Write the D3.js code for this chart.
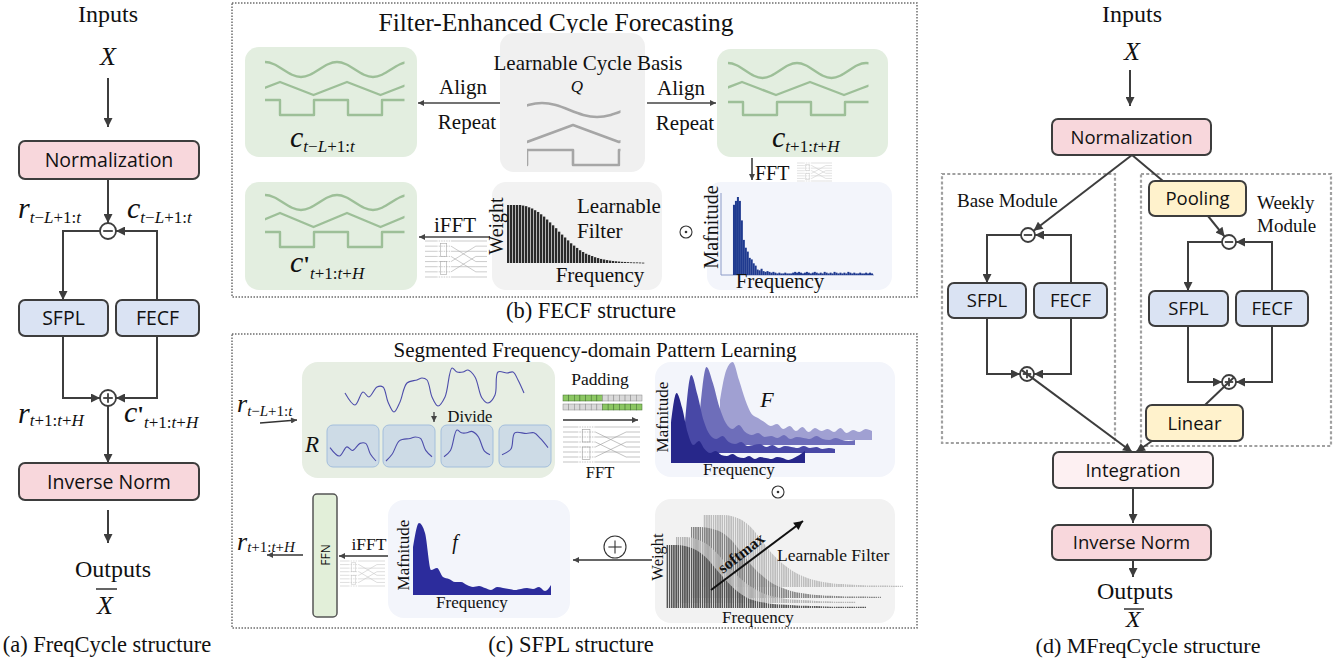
<!DOCTYPE html>
<html>
<head>
<meta charset="utf-8">
<script src="https://cdn.jsdelivr.net/npm/d3@7"></script>
<style>
  html, body { margin: 0; padding: 0; background: #fff; }
  svg { display: block; }
</style>
</head>
<body>
<script>
// ---------------- data ----------------
const panelCaptions = ["(a) FreqCycle structure", "(b) FECF structure", "(c) SFPL structure", "(d) MFreqCycle structure"];
const panelTitles = ["Filter-Enhanced Cycle Forecasting", "Segmented Frequency-domain Pattern Learning"];

// one period of each learnable cycle basis (1 = high, 0 = low)
const sineCycle = [1, 0.85, 0.5, 0.15, 0, 0.15, 0.5, 0.85];
const triangleCycle = [1, 0.5, 0, 0.5];
const squareCycle = [1, 0];

// FFT magnitude of the cycle (panel b)
const fftMagnitude = [0, 0.9, 0.95, 1.0, 0.95, 0.7, 0.45, 0.35, 0.3, 0.22, 0.2, 0.15, 0.12, 0.07, 0.06, 0.08,
  0.05, 0.04, 0.05, 0.04, 0.03, 0.04, 0.03, 0.02, 0.03, 0.02, 0.02, 0.03, 0.02, 0.02, 0.02, 0.03, 0.04, 0.03,
  0.04, 0.03, 0.02, 0.03, 0.04, 0.03, 0.02, 0.03, 0.04, 0.03, 0.02, 0.03, 0.02, 0.04, 0.03, 0.02, 0.03, 0.02,
  0.04, 0.03, 0.02, 0.03, 0.02, 0.03, 0.02, 0.04, 0.03, 0.02, 0.03, 0.02, 0.02, 0.03, 0.02, 0.02, 0.03, 0.02,
  0.03, 0.02];

// learnable filter weights (panel b)
const filterWeights = [1, 1, 1, 1, 1, 0.99, 0.98, 0.96, 0.94, 0.91, 0.88, 0.84, 0.8, 0.75, 0.7, 0.65, 0.6,
  0.54, 0.49, 0.44, 0.39, 0.34, 0.3, 0.26, 0.22, 0.19, 0.16, 0.14, 0.12, 0.1, 0.085, 0.07, 0.06, 0.05, 0.042,
  0.035, 0.03, 0.025, 0.02, 0.018, 0.015, 0.012, 0.01, 0.01, 0.008, 0.006];

// residual series r (panel c) and its segment boundaries (indices)
const residualTime = [0, 10, 18, 24, 32, 38, 43, 49, 55, 62, 72, 77, 82, 87, 93, 100, 107, 112, 118, 123, 130, 137, 143, 150, 153, 162, 168, 173, 179];
const residualValue = [19, 7, 20, 15, 25, 25, 10, 0, 10, 29, 32, 34, 32, 15, 6, 15, 44, 40, 40, 42, 35, 14, 9, 17, 40, 39, 40, 32, 19];
const segmentBreaks = [[0, 7], [7, 14], [14, 22], [22, 28]];
const paddingRows = [[1, 1, 1, 1, 1, 1, 1, 0, 0, 0, 0, 0, 0, 0], [0, 0, 0, 0, 0, 0, 0, 1, 1, 1, 1, 1, 1, 1]];

// per-segment spectra F (front to back)
const segmentSpectra = [
  [40, 70, 55, 30, 18, 22, 14, 10, 12, 8, 7, 9, 6, 5, 7, 4, 6, 5, 4, 6, 5, 3, 5, 8, 12],
  [30, 78, 58, 32, 18, 14, 17, 11, 9, 11, 7, 8, 9, 6, 8, 5, 7, 6, 5, 7, 5, 6, 4, 5, 4],
  [35, 78, 62, 38, 22, 16, 20, 13, 10, 12, 8, 9, 7, 10, 6, 8, 7, 6, 9, 6, 5, 7, 5, 4, 5],
  [40, 70, 78, 60, 40, 26, 22, 18, 14, 16, 11, 14, 9, 13, 8, 12, 9, 11, 8, 12, 7, 10, 8, 11, 9]
];
// merged spectrum f
const mergedSpectrum = [48, 72, 62, 25, 27, 18, 16, 13, 13, 10, 8, 9, 7, 5, 8, 7, 6, 5, 6, 7, 6, 8, 4, 10];

// learnable filter bank (front to back)
const filterBank = [
  [1, 1, 0.98, 0.92, 0.8, 0.62, 0.44, 0.28, 0.17, 0.11, 0.08, 0.06, 0.05, 0.04, 0.035, 0.03, 0.025, 0.02, 0.02, 0.015, 0.01],
  [1, 1, 0.97, 0.9, 0.77, 0.6, 0.43, 0.3, 0.2, 0.13, 0.09, 0.06, 0.05, 0.04, 0.03, 0.025, 0.02, 0.015, 0.01],
  [1, 1, 0.98, 0.93, 0.82, 0.65, 0.47, 0.33, 0.22, 0.15, 0.1, 0.07, 0.05, 0.04, 0.03, 0.025, 0.02, 0.02, 0.015, 0.01],
  [1, 1, 1, 0.98, 0.92, 0.8, 0.62, 0.45, 0.32, 0.22, 0.15, 0.1, 0.07, 0.05, 0.04, 0.03, 0.025, 0.02, 0.02, 0.015, 0.01]
];

// ---------------- setup ----------------
const serif = "'Liberation Serif','Times New Roman',serif";
const sans = "'Open Sans','Noto Sans',sans-serif";
const ink = "#3d3d3d";
const pink = "#f8d7dc", blue = "#dae3f3", yellow = "#fff2cc", softPink = "#fdf0f2";

const svg = d3.select("body").append("svg").attr("width", 1343).attr("height", 664);
const defs = svg.append("defs");

function marker(id, w, h, color) {
  defs.append("marker").attr("id", id).attr("viewBox", "0 0 10 10")
    .attr("refX", 10).attr("refY", 5).attr("markerWidth", w).attr("markerHeight", h)
    .attr("markerUnits", "userSpaceOnUse").attr("orient", "auto")
    .append("path").attr("d", "M0,0L10,5L0,10z").attr("fill", color);
}
marker("head", 10, 9, ink);
marker("headS", 8, 6, "#444");
marker("headK", 11, 9, "#111");

function stripes(id, color) {
  const p = defs.append("pattern").attr("id", id).attr("patternUnits", "userSpaceOnUse")
    .attr("width", 2.2).attr("height", 10);
  p.append("rect").attr("width", 1.5).attr("height", 10).attr("fill", color);
}

function label(x, y, str, o = {}) {
  return svg.append("text").attr("x", x).attr("y", y).text(str)
    .attr("font-family", o.font || serif).attr("font-size", o.size || 20)
    .attr("text-anchor", o.anchor || "middle").attr("fill", o.fill || "#111")
    .attr("font-style", o.italic ? "italic" : null)
    .attr("font-weight", o.weight || null)
    .attr("dominant-baseline", o.rotate != null ? "central" : null)
    .attr("transform", o.rotate != null ? `rotate(${o.rotate},${x},${y})` : null);
}

function mathSym(x, y, main, sub, o = {}) {
  const size = o.size || 30, subSize = o.subSize || 17;
  const t = svg.append("text").attr("x", x).attr("y", y).attr("font-family", serif).attr("fill", "#111");
  t.append("tspan").attr("font-style", "italic").attr("font-size", size).text(main);
  if (o.prime) t.append("tspan").attr("font-size", size * 0.8).attr("font-weight", "bold").text("'");
  sub.match(/[A-Za-z]+|[^A-Za-z]+/g).forEach((run, i) => {
    t.append("tspan").attr("font-size", subSize).attr("dy", i === 0 ? (o.dy == null ? 6 : o.dy) : null)
      .attr("font-style", /[A-Za-z]/.test(run) ? "italic" : null).text(run);
  });
}

function roundRect(x0, y0, x1, y1, fill, o = {}) {
  return svg.append("rect").attr("x", x0).attr("y", y0).attr("width", x1 - x0).attr("height", y1 - y0)
    .attr("rx", o.rx == null ? 6 : o.rx).attr("fill", fill)
    .attr("stroke", o.stroke || "none").attr("stroke-width", o.sw || 0)
    .attr("stroke-dasharray", o.dash || null);
}

function block(x0, y0, x1, y1, fill, name, size) {
  roundRect(x0, y0, x1, y1, fill, { stroke: ink, sw: 2, rx: 6 });
  label((x0 + x1) / 2, (y0 + y1) / 2 + size * 0.36, name, { font: sans, size: size, fill: "#111" });
}

function link(points, o = {}) {
  return svg.append("path").attr("d", d3.line()(points)).attr("fill", "none")
    .attr("stroke", o.color || ink).attr("stroke-width", o.width || 2)
    .attr("marker-end", o.head === false ? null : `url(#${o.marker || "head"})`);
}

function toEdge(from, c, r) {
  const dx = c[0] - from[0], dy = c[1] - from[1], d = Math.hypot(dx, dy);
  return [c[0] - dx / d * r, c[1] - dy / d * r];
}

function op(cx, cy, r, kind, o = {}) {
  const g = svg.append("g").attr("stroke", o.color || ink).attr("stroke-width", o.sw || 1.8);
  g.append("circle").attr("cx", cx).attr("cy", cy).attr("r", r).attr("fill", "#fff");
  const a = r * 0.6;
  if (kind !== "dot") g.append("line").attr("x1", cx - a).attr("x2", cx + a).attr("y1", cy).attr("y2", cy);
  if (kind === "plus") g.append("line").attr("x1", cx).attr("x2", cx).attr("y1", cy - a).attr("y2", cy + a);
  if (kind === "dot") g.append("circle").attr("cx", cx).attr("cy", cy).attr("r", 1.3).attr("fill", o.color || ink).attr("stroke", "none");
}

function butterfly(x, y, w, h, color) {
  const g = svg.append("g").attr("stroke", color).attr("stroke-width", 0.6).attr("fill", "none");
  const ys = d3.scaleLinear().domain([0, 7]).range([y, y + h]);
  const order = [0, 4, 2, 6, 1, 5, 3, 7];
  d3.range(8).forEach(i => {
    g.append("line").attr("x1", x).attr("x2", x + w * 0.18).attr("y1", ys(i)).attr("y2", ys(i));
    g.append("line").attr("x1", x + w * 0.18).attr("x2", x + w * 0.42).attr("y1", ys(i)).attr("y2", ys(i))
      .attr("stroke-dasharray", "1.5,1");
    g.append("line").attr("x1", x + w * 0.42).attr("x2", x + w * 0.82).attr("y1", ys(i)).attr("y2", ys(order[i]));
    g.append("line").attr("x1", x + w * 0.82).attr("x2", x + w).attr("y1", ys(i)).attr("y2", ys(i));
  });
  g.append("rect").attr("x", x + w * 0.25).attr("y", ys(0.5)).attr("width", w * 0.1).attr("height", ys(3) - ys(0.5));
  g.append("rect").attr("x", x + w * 0.25).attr("y", ys(4)).attr("width", w * 0.1).attr("height", ys(6.5) - ys(4));
}

// repeat one cycle across [x0, x1]; `start` is an x where a cycle begins
function repeatCycle(cycle, x0, x1, period, start) {
  const step = period / cycle.length, n = cycle.length, pts = [];
  for (let k = Math.floor((x0 - start) / step) - 2; start + k * step <= x1 + 2 * step; k++) {
    pts.push({ x: start + k * step, v: cycle[((k % n) + n) % n] });
  }
  return pts;
}

let clipId = 0;
function cycleWaves(spec, color, width) {
  const id = "clip" + (clipId++);
  defs.append("clipPath").attr("id", id).append("rect")
    .attr("x", spec.x0).attr("y", 0).attr("width", spec.x1 - spec.x0 + 1.5).attr("height", 664);
  const g = svg.append("g").attr("clip-path", `url(#${id})`).attr("fill", "none")
    .attr("stroke", color).attr("stroke-width", width).attr("stroke-linejoin", "round");
  [[sineCycle, spec.sine, d3.curveNatural], [triangleCycle, spec.tri, d3.curveLinear], [squareCycle, spec.sq, d3.curveStepAfter]]
    .forEach(([cycle, s, curve]) => {
      const y = d3.scaleLinear().domain([0, 1]).range([s[1], s[0]]);
      const pts = repeatCycle(cycle, spec.x0, spec.x1, s[2], s[3]);
      g.append("path").attr("d", d3.line().x(d => d.x).y(d => y(d.v)).curve(curve)(pts));
    });
}

// ---------------- panel (a) ----------------
label(108, 22, "Inputs", { size: 24 });
label(108, 65, "X", { size: 26, italic: true });
link([[108, 78], [108, 127]]);
block(19, 141, 199, 179, pink, "Normalization", 19.5);
link([[108, 179], [108, 223]]);
op(108, 231, 8, "minus");
link([[100, 231], [63, 231], [63, 300]]);
link([[157, 300], [157, 231], [116, 231]]);
block(19, 300, 108, 336, blue, "SFPL", 19.5);
block(116, 300, 199, 336, blue, "FECF", 19.5);
link([[63, 336], [63, 398], [100, 398]]);
link([[157, 336], [157, 398], [116, 398]]);
op(108, 398, 8, "plus");
link([[108, 406], [108, 463]]);
block(19, 463, 199, 500, pink, "Inverse Norm", 19.5);
link([[108, 510], [108, 543]]);
label(113, 577, "Outputs", { size: 24 });
label(105, 614, "X", { size: 26, italic: true });
svg.append("line").attr("x1", 96).attr("x2", 117).attr("y1", 589).attr("y2", 589).attr("stroke", "#111").attr("stroke-width", 1.3);
label(107, 652, panelCaptions[0], { size: 22.5 });

mathSym(18, 218, "r", "t−L+1:t", { size: 30, subSize: 17, dy: 5 });
mathSym(127, 218, "c", "t−L+1:t", { size: 30, subSize: 17, dy: 5 });
mathSym(18, 423, "r", "t+1:t+H", { size: 30, subSize: 17, dy: 3 });
mathSym(124, 422, "c", "t+1:t+H", { size: 30, subSize: 17, dy: 6, prime: true });

// ---------------- panel (b) ----------------
roundRect(232, 3, 917, 297, "none", { stroke: "#6e6e6e", sw: 1.5, dash: "1.5,1.5", rx: 0 });
label(556, 31, panelTitles[0], { size: 25.5 });

const green = "#e3eee0", greenLine = "#9dbf98", greyLine = "#a6a6a6";
roundRect(245, 47, 417, 157, green, { rx: 14 });
cycleWaves({ x0: 265, x1: 403, sine: [62, 77, 72, 265], tri: [82, 95, 67, 280], sq: [100, 115, 68, 246] }, greenLine, 2.4);
mathSym(290, 147, "c", "t−L+1:t", { size: 30, subSize: 17, dy: 5 });

roundRect(500, 33, 645, 172, "#f0f0f0", { rx: 14 });
label(588, 70, "Learnable Cycle Basis", { size: 21 });
label(577, 92, "Q", { size: 17, italic: true });
cycleWaves({ x0: 527, x1: 619, sine: [103, 117, 110, 542], tri: [125, 142, 92, 573], sq: [150, 165, 92, 527] }, greyLine, 2.6);

link([[500, 103], [418, 103]], { width: 1.6, marker: "headS", color: "#444" });
label(463, 94, "Align", { size: 21 });
label(467, 129, "Repeat", { size: 21 });
link([[647, 103], [716, 103]], { width: 1.6, marker: "headS", color: "#444" });
label(681, 95, "Align", { size: 21 });
label(685, 130, "Repeat", { size: 21 });

roundRect(717, 49, 888, 157, green, { rx: 14 });
cycleWaves({ x0: 728, x1: 867, sine: [63, 78, 69, 728], tri: [82, 95, 68, 742], sq: [102, 115, 68, 709] }, greenLine, 2.4);
mathSym(772, 147, "c", "t+1:t+H", { size: 30, subSize: 17, dy: 5 });

link([[752, 158], [752, 180]], { width: 1.5, marker: "headS", color: "#333" });
label(755, 180, "FFT", { size: 20, anchor: "start" });
butterfly(797, 163, 35, 18, "#cfcfcf");

roundRect(245, 182, 417, 290, green, { rx: 14 });
cycleWaves({ x0: 265, x1: 403, sine: [195, 210, 72, 265], tri: [213, 227, 67, 280], sq: [232, 247, 68, 246] }, greenLine, 2.4);
mathSym(290, 272, "c", "t+1:t+H", { size: 30, subSize: 17, dy: 7, prime: true });

label(455, 232, "iFFT", { size: 21 });
link([[490, 237], [419, 237]], { width: 1.6, marker: "headS", color: "#444" });
butterfly(425, 241, 62, 36, "#a9a9a9");

roundRect(492, 182, 662, 290, "#f2f2f2", { rx: 14 });
{
  const x = d3.scaleLinear().domain([0, filterWeights.length - 1]).range([507, 642]);
  const y = d3.scaleLinear().domain([0, 1]).range([263, 205]);
  svg.append("g").selectAll("rect").data(filterWeights).join("rect")
    .attr("x", (d, i) => x(i)).attr("y", d => y(d)).attr("width", 2.3)
    .attr("height", d => Math.max(0.8, 263 - y(d))).attr("fill", "#2b2b2b");
}
label(496, 226, "Weight", { size: 20, rotate: -90 });
label(577, 213, "Learnable", { size: 21, anchor: "start" });
label(577, 238, "Filter", { size: 21, anchor: "start" });
label(600, 282, "Frequency", { size: 21 });
op(686, 232, 6, "dot", { sw: 1.1, color: "#333" });

roundRect(707, 182, 892, 290, "#f3f5fb", { rx: 14 });
{
  const x = d3.scaleLinear().domain([0, fftMagnitude.length - 1]).range([731, 871]);
  const y = d3.scaleLinear().domain([0, 1]).range([275, 197]);
  svg.append("line").attr("x1", 721).attr("x2", 721).attr("y1", 193).attr("y2", 275).attr("stroke", "#8c9bc8").attr("stroke-width", 1);
  svg.append("line").attr("x1", 721).attr("x2", 874).attr("y1", 275).attr("y2", 275).attr("stroke", "#8c9bc8").attr("stroke-width", 1);
  svg.append("g").selectAll("rect").data(fftMagnitude).join("rect")
    .attr("x", (d, i) => x(i)).attr("y", d => y(d)).attr("width", 2)
    .attr("height", d => 275 - y(d)).attr("fill", "#1f3a8f");
}
label(711, 227, "Mafnitude", { size: 20, rotate: -90 });
label(780, 288, "Frequency", { size: 21 });
label(591, 318, panelCaptions[1], { size: 22.5 });

// ---------------- panel (c) ----------------
roundRect(232, 334, 917, 628, "none", { stroke: "#6e6e6e", sw: 1.5, dash: "1.5,1.5", rx: 0 });
label(595, 357, panelTitles[1], { size: 21 });

mathSym(237, 412, "r", "t−L+1:t", { size: 26, subSize: 15, dy: 4 });
link([[260, 423], [297, 420]], { width: 1.4, marker: "headS", color: "#333" });

roundRect(302, 362, 555, 478, "#e7eee3", { rx: 16 });
{
  const x = d3.scaleLinear().domain([0, 179]).range([345, 524]);
  const y = d3.scaleLinear().domain([0, 44]).range([412, 368]);
  const pts = residualTime.map((t, i) => [x(t), y(residualValue[i])]);
  svg.append("path").attr("d", d3.line().curve(d3.curveCatmullRom)(pts))
    .attr("fill", "none").attr("stroke", "#4d4dab").attr("stroke-width", 1.1);

  const boxes = [327, 383, 441, 499];
  segmentBreaks.forEach(([a, b], k) => {
    roundRect(boxes[k], 425, boxes[k] + 52, 467, "#cddbe6", { stroke: "#a3bedc", sw: 1, rx: 6 });
    const sx = d3.scaleLinear().domain([residualTime[a], residualTime[b]]).range([boxes[k] + 3, boxes[k] + 49]);
    const sy = d3.scaleLinear().domain([0, 44]).range([461, 430]);
    const seg = d3.range(a, b + 1).map(i => [sx(residualTime[i]), sy(residualValue[i])]);
    svg.append("path").attr("d", d3.line().curve(d3.curveCatmullRom)(seg))
      .attr("fill", "none").attr("stroke", "#4d4dab").attr("stroke-width", 1.1);
  });
}
link([[434, 412], [434, 422]], { width: 1.2, marker: "headS", color: "#333" });
label(470, 422, "Divide", { size: 16.5 });
label(312, 452, "R", { size: 23, italic: true });

label(600, 385, "Padding", { size: 17.5 });
paddingRows.forEach((row, r) => {
  const cw = (642 - 563) / row.length;
  svg.append("g").selectAll("rect").data(row).join("rect")
    .attr("x", (d, i) => 563 + i * cw).attr("y", 395 + r * 9).attr("width", cw).attr("height", 6)
    .attr("fill", d => d ? "#8cc763" : "#d9d9d9").attr("stroke", d => d ? "#3d6b2a" : "#888").attr("stroke-width", 0.5);
});
link([[563, 420], [638, 420]], { width: 1.4, marker: "headS", color: "#333" });
butterfly(563, 427, 77, 35, "#9a9a9a");
label(600, 478, "FFT", { size: 16.5 });

roundRect(655, 362, 895, 477, "#f3f5fb", { rx: 16 });
{
  const layers = [
    { x0: 671, x1: 805, base: 463, color: "#27278a" },
    { x0: 685, x1: 835, base: 453, color: "#4848a6" },
    { x0: 700, x1: 855, base: 445, color: "#6e6eba" },
    { x0: 720, x1: 872, base: 440, color: "#a0a0d2" }
  ];
  const y = d3.scaleLinear().domain([0, 80]).range([0, 80]);
  for (let k = segmentSpectra.length - 1; k >= 0; k--) {
    const L = layers[k], vals = segmentSpectra[k];
    const x = d3.scaleLinear().domain([0, vals.length - 1]).range([L.x0, L.x1]);
    const area = d3.area().x((d, i) => x(i)).y0(L.base).y1(d => L.base - y(d)).curve(d3.curveMonotoneX);
    svg.append("path").attr("d", area(vals)).attr("fill", L.color);
  }
}
label(662, 417, "Mafnitude", { size: 17, rotate: -90 });
label(767, 407, "F", { size: 22, italic: true });
label(739, 475, "Frequency", { size: 17 });
op(778, 492, 6, "dot", { sw: 1.1, color: "#333" });

roundRect(313, 494, 337, 617, "#e2efd9", { stroke: "#555", sw: 1.5, rx: 4 });
label(325, 555, "FFN", { font: sans, size: 12, rotate: -90 });
mathSym(237, 550, "r", "t+1:t+H", { size: 26, subSize: 15, dy: 2 });
link([[303, 555], [267, 555]], { width: 1.4, marker: "headS", color: "#333" });
label(369, 550, "iFFT", { size: 17.5 });
link([[388, 556], [339, 556]], { width: 1.4, marker: "headS", color: "#333" });
butterfly(340, 561, 45, 25, "#c8c8c8");

roundRect(388, 500, 570, 618, "#f3f5fb", { rx: 16 });
{
  const x = d3.scaleLinear().domain([0, mergedSpectrum.length - 1]).range([413, 551]);
  const y = d3.scaleLinear().domain([0, 80]).range([595, 515]);
  svg.append("path").attr("d", d3.area().x((d, i) => x(i)).y0(595).y1(d => y(d)).curve(d3.curveMonotoneX)(mergedSpectrum))
    .attr("fill", "#2c2c9c");
}
label(403, 555, "Mafnitude", { size: 17, rotate: -90 });
label(455, 549, "f", { size: 20, italic: true });
label(472, 608, "Frequency", { size: 17 });
op(615, 547, 11, "plus", { sw: 1.1, color: "#333" });
link([[652, 560], [573, 560]], { width: 1.4, marker: "headS", color: "#333" });

roundRect(655, 499, 895, 623, "#f2f2f2", { rx: 16 });
{
  const layers = [
    { x0: 666, step: 10, base: 608, h: 63, color: "#555555" },
    { x0: 676, step: 10, base: 603, h: 66, color: "#b4b4b4" },
    { x0: 691, step: 10, base: 598, h: 71, color: "#858585" },
    { x0: 703, step: 10, base: 587, h: 72, color: "#bdbdbd" }
  ];
  for (let k = filterBank.length - 1; k >= 0; k--) {
    const L = layers[k], vals = filterBank[k];
    stripes("st" + k, L.color);
    const x = d3.scaleLinear().domain([0, vals.length - 1]).range([L.x0, L.x0 + L.step * (vals.length - 1)]);
    const y = d3.scaleLinear().domain([0, 1]).range([L.base, L.base - L.h]);
    const area = d3.area().x((d, i) => x(i)).y0(L.base).y1(d => Math.min(y(d), L.base - 1.2)).curve(d3.curveMonotoneX);
    svg.append("path").attr("d", area(vals)).attr("fill", `url(#st${k})`);
  }
}
link([[711, 590], [803, 521]], { width: 2, marker: "headK", color: "#111" });
label(741, 553, "softmax", { size: 16, weight: "bold", rotate: -38 });
label(777, 561, "Learnable Filter", { size: 17.5, anchor: "start" });
label(657, 557, "Weight", { size: 16.5, rotate: -90 });
label(758, 623, "Frequency", { size: 17 });
label(571, 652, panelCaptions[2], { size: 22.5 });

// ---------------- panel (d) ----------------
label(1132, 22, "Inputs", { size: 24 });
label(1132, 60, "X", { size: 26, italic: true });
link([[1130, 70], [1130, 106]]);
block(1052, 119, 1211, 155, pink, "Normalization", 18.5);

roundRect(942, 174, 1115, 443, "none", { stroke: "#a0a0a0", sw: 2.2, dash: "3,2.2", rx: 0 });
roundRect(1141, 174, 1331, 446, "none", { stroke: "#a0a0a0", sw: 2.2, dash: "3,2.2", rx: 0 });

const bMinus = [1028, 235], wMinus = [1229, 242], bPlus = [1027, 374], wPlus = [1229, 382];
link([[1132, 155], [1163, 181]], { head: false });
link([[1132, 155], toEdge([1132, 155], bMinus, 7)]);
block(1149, 181, 1246, 216, yellow, "Pooling", 18.5);
label(957, 207, "Base Module", { size: 19, anchor: "start" });
label(1257, 209, "Weekly", { size: 19, anchor: "start" });
label(1257, 232, "Module", { size: 19, anchor: "start" });

link([[1021, 235], [987, 235], [987, 283]]);
link([[1071, 283], [1071, 235], [1035, 235]]);
op(bMinus[0], bMinus[1], 7, "minus");
block(948, 283, 1026, 318, blue, "SFPL", 18.5);
block(1034, 283, 1107, 318, blue, "FECF", 18.5);

link([[1208, 216], toEdge([1208, 216], wMinus, 7)]);
link([[1222, 242], [1188, 242], [1188, 291]]);
link([[1272, 291], [1272, 242], [1236, 242]]);
op(wMinus[0], wMinus[1], 7, "minus");
block(1149, 291, 1228, 326, blue, "SFPL", 18.5);
block(1236, 291, 1308, 326, blue, "FECF", 18.5);

link([[987, 318], [987, 374], [1020, 374]]);
link([[1071, 318], [1071, 374], [1034, 374]]);
op(bPlus[0], bPlus[1], 7, "plus");
link([[1188, 326], [1188, 382], [1222, 382]]);
link([[1272, 326], [1272, 382], [1236, 382]]);
op(wPlus[0], wPlus[1], 7, "plus");

link([toEdge([1132, 452], bPlus, -7), [1132, 452]]);
link([toEdge([1205, 405], wPlus, -7), [1205, 405]], { head: false });
block(1146, 405, 1243, 441, yellow, "Linear", 18.5);
link([[1152, 441], [1136, 452]]);
block(1053, 452, 1213, 488, softPink, "Integration", 18.5);
link([[1133, 488], [1133, 523]]);
block(1052, 525, 1211, 560, pink, "Inverse Norm", 18.5);
link([[1133, 560], [1133, 577]]);
label(1135, 599, "Outputs", { size: 24 });
label(1133, 627, "X", { size: 24, italic: true });
svg.append("line").attr("x1", 1124).attr("x2", 1144).attr("y1", 609).attr("y2", 609).attr("stroke", "#111").attr("stroke-width", 1.3);
label(1148, 653, panelCaptions[3], { size: 22 });
</script>
</body>
</html>
